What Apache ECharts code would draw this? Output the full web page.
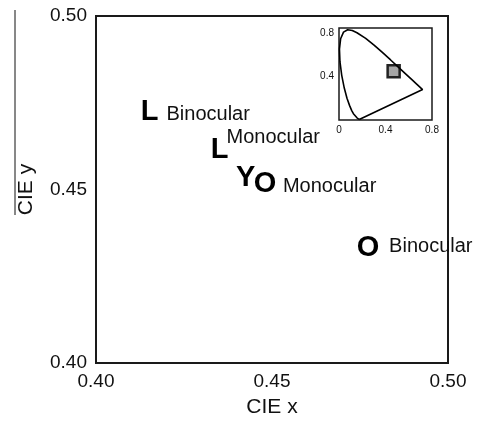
<!DOCTYPE html>
<html>
<head>
<meta charset="utf-8">
<script src="https://cdn.jsdelivr.net/npm/echarts@6/dist/echarts.min.js"></script>
<style>
  html, body { margin: 0; padding: 0; background: #fff; }
  #main { width: 479px; height: 423px; }
</style>
</head>
<body>
<div id="main"></div>
<script>
// marks in the main plot
const letters = ['L', 'L', 'Y', 'O', 'O']
const conditions = ['Binocular', 'Monocular', '', 'Monocular', 'Binocular']
const cieX = [0.4152, 0.4351, 0.4425, 0.4480, 0.4773]
const cieY = [0.4722, 0.4613, 0.4533, 0.4516, 0.4330]

// inset: spectral locus (x, y), closed by the purple line
const locusX = [0.1741, 0.1566, 0.1440, 0.1241, 0.1096, 0.0913, 0.0687, 0.0454, 0.0235, 0.0082, 0.0039, 0.0139, 0.0389, 0.0743, 0.1142, 0.1547, 0.2296, 0.3016, 0.3731, 0.4441, 0.5125, 0.5752, 0.6270, 0.6658, 0.6915, 0.7079, 0.7190, 0.7260, 0.7347, 0.1741]
const locusY = [0.0050, 0.0177, 0.0297, 0.0578, 0.0868, 0.1327, 0.2007, 0.2950, 0.4127, 0.5384, 0.6548, 0.7502, 0.8120, 0.8338, 0.8262, 0.8059, 0.7543, 0.6923, 0.6245, 0.5547, 0.4866, 0.4242, 0.3725, 0.3340, 0.3083, 0.2920, 0.2809, 0.2740, 0.2653, 0.0050]
const regionX = [0.47]
const regionY = [0.45]

const xTicks = [0.40, 0.45, 0.50]
const yTicks = [0.40, 0.45, 0.50]

// label offsets for the condition text (pixels)
const textOffsets = [[17, 2], [7, -13], [0, 0], [18, 3], [21, -2]]

const font = 'Liberation Sans, Arial, Helvetica, sans-serif'
const chart = echarts.init(document.getElementById('main'))

const letterData = cieX.map((x, i) => ({ value: [x, cieY[i]], name: letters[i] }))
const textData = cieX.map((x, i) => ({
    value: [x, cieY[i]],
    name: conditions[i],
    label: { offset: textOffsets[i] }
}))

const option = {
    animation: false,
    backgroundColor: '#fff',
    textStyle: { fontFamily: font },
    grid: [
        { left: 96, top: 16, width: 352, height: 349, show: true, borderColor: '#1a1a1a', borderWidth: 2, backgroundColor: 'transparent' },
        { left: 339, top: 28, width: 93, height: 92, show: true, borderColor: '#1a1a1a', borderWidth: 1.5, backgroundColor: 'transparent' }
    ],
    xAxis: [
        {
            gridIndex: 0, type: 'value', min: 0.40, max: 0.50, interval: 0.05,
            name: 'CIE x', nameLocation: 'middle', nameGap: 34,
            nameTextStyle: { fontSize: 21, color: '#111', fontFamily: font },
            axisLine: { show: false }, axisTick: { show: false }, splitLine: { show: false },
            axisLabel: {
                fontSize: 19, color: '#111', margin: 9, fontFamily: font,
                formatter: v => xTicks.find(t => Math.abs(t - v) < 1e-6) !== undefined ? v.toFixed(2) : ''
            }
        },
        {
            gridIndex: 1, type: 'value', min: 0, max: 0.8, interval: 0.4,
            axisLine: { show: false }, axisTick: { show: false }, splitLine: { show: false },
            axisLabel: { fontSize: 10, color: '#111', margin: 5, formatter: v => v === 0 ? '0' : v.toFixed(1) }
        }
    ],
    yAxis: [
        {
            gridIndex: 0, type: 'value', min: 0.40, max: 0.50, interval: 0.05,
            name: 'CIE y', nameLocation: 'middle', nameGap: 59, nameRotate: 90,
            nameTextStyle: { fontSize: 21, color: '#111', fontFamily: font },
            axisLine: { show: false }, axisTick: { show: false }, splitLine: { show: false },
            axisLabel: {
                fontSize: 19, color: '#111', margin: 9, fontFamily: font,
                formatter: v => yTicks.find(t => Math.abs(t - v) < 1e-6) !== undefined ? v.toFixed(2) : ''
            }
        },
        {
            gridIndex: 1, type: 'value', min: 0, max: 0.85, interval: 0.4,
            axisLine: { show: false }, axisTick: { show: false }, splitLine: { show: false },
            axisLabel: { fontSize: 10, color: '#111', margin: 5, formatter: v => v === 0 ? '' : v.toFixed(1) }
        }
    ],
    graphic: [
        { type: 'line', shape: { x1: 15, y1: 10, x2: 15, y2: 215 }, style: { stroke: '#111', lineWidth: 1 } }
    ],
    series: [
        {
            type: 'scatter', xAxisIndex: 0, yAxisIndex: 0,
            symbolSize: 0, itemStyle: { color: '#000', opacity: 1 },
            data: letterData,
            label: {
                show: true, position: 'inside', formatter: p => p.name,
                fontSize: 29, fontWeight: 'bold', color: '#000', fontFamily: font
            }
        },
        {
            type: 'scatter', xAxisIndex: 0, yAxisIndex: 0,
            symbolSize: 0, itemStyle: { color: '#000', opacity: 1 },
            data: textData,
            label: {
                show: true, position: 'inside', align: 'left', formatter: p => p.name,
                fontSize: 20, color: '#111', fontFamily: font
            }
        },
        {
            type: 'line', xAxisIndex: 1, yAxisIndex: 1,
            showSymbol: false, smooth: false,
            lineStyle: { color: '#000', width: 1.6 },
            data: locusX.map((x, i) => [x, locusY[i]])
        },
        {
            type: 'scatter', xAxisIndex: 1, yAxisIndex: 1,
            symbol: 'rect', symbolSize: 12,
            itemStyle: { color: '#a6a6a6', borderColor: '#222', borderWidth: 2.5, opacity: 1 },
            data: regionX.map((x, i) => [x, regionY[i]])
        }
    ]
}
chart.setOption(option)
</script>
</body>
</html>
